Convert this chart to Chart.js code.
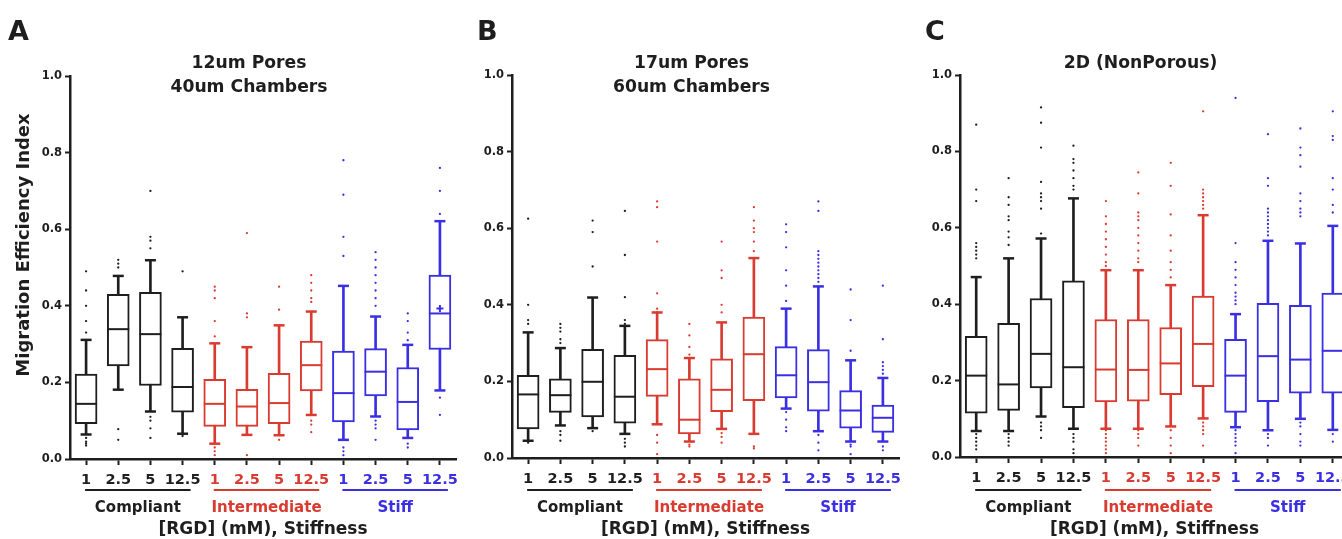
<!DOCTYPE html>
<html>
<head>
<meta charset="utf-8">
<script src="https://cdn.jsdelivr.net/npm/chart.js@4.4.1/dist/chart.umd.min.js"></script>
<style>
    html, body { margin: 0; padding: 0; background: #fff; }
    #wrap { position: relative; width: 1342px; height: 539px; overflow: hidden; background: #fff; }
    #wrap canvas { position: absolute; top: 0; }
</style>
</head>
<body>
<div id="wrap">
    <canvas id="panelA" width="490" height="539" style="left:0px"></canvas>
    <canvas id="panelB" width="480" height="539" style="left:450px"></canvas>
    <canvas id="panelC" width="490" height="539" style="left:900px"></canvas>
</div>
<script>
// categories: [RGD] (mM) within each stiffness group
const categories = ['1', '2.5', '5', '12.5', '1', '2.5', '5', '12.5', '1', '2.5', '5', '12.5'];
const groupNames = ['Compliant', 'Intermediate', 'Stiff'];
const groupColors = ['#1e1e1e', '#d93b30', '#3a2fe2'];
const yTickValues = [0, 0.2, 0.4, 0.6, 0.8, 1.0];

// A: 12um pores / 40um chambers
const aLow  = [0.064, 0.181, 0.124, 0.066, 0.040, 0.063, 0.062, 0.115, 0.050, 0.111, 0.055, 0.179];
const aQ1   = [0.092, 0.243, 0.192, 0.122, 0.085, 0.085, 0.092, 0.178, 0.097, 0.165, 0.076, 0.286];
const aMed  = [0.144, 0.339, 0.326, 0.188, 0.144, 0.137, 0.146, 0.245, 0.172, 0.228, 0.149, 0.380];
const aQ3   = [0.222, 0.430, 0.435, 0.289, 0.208, 0.182, 0.224, 0.308, 0.282, 0.288, 0.239, 0.480];
const aHigh = [0.311, 0.478, 0.519, 0.370, 0.302, 0.292, 0.349, 0.385, 0.452, 0.372, 0.298, 0.621];
const aOutliers = [
    [0.49, 0.44, 0.40, 0.36, 0.33, 0.055, 0.045, 0.04, 0.035],
    [0.52, 0.51, 0.50, 0.078, 0.05],
    [0.70, 0.58, 0.57, 0.55, 0.11, 0.10, 0.08, 0.055],
    [0.49, 0.06],
    [0.45, 0.44, 0.42, 0.36, 0.32, 0.03, 0.02, 0.01],
    [0.59, 0.38, 0.37, 0.01],
    [0.45, 0.39, 0.05],
    [0.48, 0.46, 0.44, 0.42, 0.41, 0.10, 0.09, 0.07],
    [0.78, 0.69, 0.58, 0.53, 0.03, 0.02, 0.01],
    [0.54, 0.52, 0.50, 0.48, 0.46, 0.44, 0.42, 0.40, 0.10, 0.09, 0.08, 0.05],
    [0.38, 0.36, 0.33, 0.31, 0.04, 0.03],
    [0.76, 0.70, 0.64, 0.16, 0.115]
];
const aMeans = [null, null, null, null, null, null, null, null, null, null, null, 0.393];

// B: 17um pores / 60um chambers
const bLow  = [0.045, 0.085, 0.078, 0.063, 0.088, 0.043, 0.076, 0.063, 0.129, 0.070, 0.043, 0.043];
const bQ1   = [0.076, 0.119, 0.107, 0.091, 0.161, 0.063, 0.121, 0.150, 0.157, 0.122, 0.078, 0.067];
const bMed  = [0.166, 0.164, 0.199, 0.160, 0.232, 0.100, 0.178, 0.271, 0.216, 0.198, 0.124, 0.105];
const bQ3   = [0.216, 0.207, 0.284, 0.268, 0.309, 0.207, 0.259, 0.368, 0.291, 0.283, 0.176, 0.138];
const bHigh = [0.328, 0.287, 0.419, 0.345, 0.380, 0.261, 0.354, 0.522, 0.390, 0.448, 0.255, 0.209];
const bOutliers = [
    [0.625, 0.40, 0.36, 0.35, 0.04],
    [0.35, 0.34, 0.33, 0.31, 0.30, 0.07, 0.06, 0.045],
    [0.62, 0.59, 0.50, 0.07],
    [0.645, 0.53, 0.42, 0.36, 0.35, 0.05, 0.04, 0.03],
    [0.67, 0.655, 0.565, 0.43, 0.39, 0.38, 0.06, 0.04, 0.01],
    [0.35, 0.32, 0.29, 0.27, 0.035, 0.03],
    [0.565, 0.49, 0.47, 0.40, 0.38, 0.065, 0.055, 0.04],
    [0.655, 0.62, 0.60, 0.59, 0.565, 0.54, 0.03, 0.025],
    [0.61, 0.59, 0.55, 0.49, 0.45, 0.41, 0.12, 0.10, 0.08, 0.07],
    [0.67, 0.645, 0.54, 0.53, 0.52, 0.51, 0.50, 0.49, 0.48, 0.47, 0.46, 0.06, 0.04, 0.02],
    [0.44, 0.36, 0.28, 0.035, 0.03, 0.01],
    [0.45, 0.31, 0.25, 0.24, 0.23, 0.22, 0.03, 0.02]
];

// C: 2D (non porous)
const cLow  = [0.068, 0.068, 0.106, 0.074, 0.074, 0.074, 0.080, 0.101, 0.078, 0.070, 0.100, 0.071];
const cQ1   = [0.115, 0.122, 0.181, 0.129, 0.144, 0.146, 0.163, 0.184, 0.117, 0.145, 0.167, 0.167];
const cMed  = [0.213, 0.190, 0.270, 0.235, 0.229, 0.228, 0.245, 0.296, 0.213, 0.264, 0.255, 0.278];
const cQ3   = [0.316, 0.350, 0.415, 0.461, 0.360, 0.360, 0.339, 0.421, 0.308, 0.402, 0.397, 0.429];
const cHigh = [0.471, 0.520, 0.572, 0.677, 0.489, 0.489, 0.450, 0.633, 0.374, 0.566, 0.559, 0.605];
const cOutliers = [
    [0.87, 0.70, 0.67, 0.56, 0.55, 0.54, 0.53, 0.52, 0.06, 0.05, 0.04, 0.03, 0.02],
    [0.73, 0.68, 0.66, 0.63, 0.62, 0.59, 0.575, 0.555, 0.06, 0.05, 0.04, 0.03],
    [0.915, 0.875, 0.81, 0.72, 0.69, 0.68, 0.67, 0.65, 0.585, 0.09, 0.08, 0.07, 0.05],
    [0.815, 0.78, 0.77, 0.75, 0.73, 0.71, 0.70, 0.06, 0.05, 0.04, 0.02, 0.01],
    [0.67, 0.63, 0.61, 0.59, 0.57, 0.55, 0.53, 0.51, 0.50, 0.07, 0.06, 0.05, 0.04, 0.03, 0.02, 0.01],
    [0.745, 0.69, 0.64, 0.63, 0.62, 0.60, 0.58, 0.56, 0.54, 0.52, 0.51, 0.07, 0.06, 0.05, 0.03],
    [0.77, 0.71, 0.635, 0.58, 0.54, 0.51, 0.49, 0.47, 0.07, 0.05, 0.03, 0.01],
    [0.905, 0.70, 0.69, 0.68, 0.67, 0.66, 0.65, 0.09, 0.08, 0.07, 0.06, 0.03],
    [0.94, 0.56, 0.51, 0.49, 0.47, 0.45, 0.43, 0.42, 0.41, 0.40, 0.07, 0.06, 0.05, 0.04, 0.03, 0.01],
    [0.845, 0.73, 0.71, 0.65, 0.64, 0.63, 0.62, 0.61, 0.60, 0.59, 0.58, 0.06, 0.05, 0.03],
    [0.86, 0.81, 0.79, 0.76, 0.69, 0.67, 0.65, 0.64, 0.63, 0.09, 0.08, 0.06, 0.04, 0.03],
    [0.905, 0.84, 0.83, 0.73, 0.70, 0.66, 0.64, 0.06, 0.04]
];

const FONT = '"DejaVu Sans", Verdana, sans-serif';
const INK = '#1e1e1e';
const Y_AXIS_W = 40;
const X_AXIS_H = 36;

// unique ids so every category can be addressed by the outlier datasets
const categoryIds = categories.map((c, i) => groupNames[Math.floor(i / 4)] + ' ' + c);
const categoryColors = categories.map((c, i) => groupColors[Math.floor(i / 4)]);

Chart.defaults.font.family = FONT;
Chart.defaults.color = INK;

// titles, panel letter, group underlines and axis titles
const panelText = {
    id: 'panelText',
    afterDraw(chart, args, opts) {
        const ctx = chart.ctx;
        const area = chart.chartArea;
        const x = chart.scales.x;
        const mid = (area.left + area.right) / 2;
        ctx.save();
        ctx.fillStyle = INK;
        ctx.textAlign = 'left';
        ctx.textBaseline = 'alphabetic';
        ctx.font = 'bold 27px ' + FONT;
        ctx.fillText(opts.letter, opts.letterX, 40);

        ctx.textAlign = 'center';
        ctx.font = 'bold 17.2px ' + FONT;
        opts.title.forEach((line, i) => ctx.fillText(line, mid - 14, 68 + i * 24));

        if (opts.yTitle) {
            ctx.save();
            ctx.translate(opts.yTitleX, 245);
            ctx.rotate(-Math.PI / 2);
            ctx.textBaseline = 'middle';
            ctx.font = 'bold 18px ' + FONT;
            ctx.fillText(opts.yTitle, 0, 0);
            ctx.restore();
        }

        groupNames.forEach((name, g) => {
            const x0 = x.getPixelForValue(g * 4) - 1;
            const x1 = x.getPixelForValue(g * 4 + 3) + 8;
            ctx.strokeStyle = groupColors[g];
            ctx.lineWidth = 2;
            ctx.beginPath();
            ctx.moveTo(x0, 490);
            ctx.lineTo(x1, 490);
            ctx.stroke();
            ctx.fillStyle = groupColors[g];
            ctx.font = 'bold 15px ' + FONT;
            ctx.fillText(name, (x0 + x1) / 2, 512);
        });

        ctx.fillStyle = INK;
        ctx.font = 'bold 17px ' + FONT;
        ctx.fillText('[RGD] (mM), Stiffness', mid, 534);
        ctx.restore();
    }
};

function buildDatasets(low, q1, med, q3, high, outliers, means) {
    const sets = [
        {
            type: 'bar', data: low.map((v, i) => [v, high[i]]),
            backgroundColor: categoryColors, barThickness: 2, grouped: false, order: 6
        },
        {
            type: 'bar', data: q1.map((v, i) => [v, q3[i]]),
            backgroundColor: '#ffffff', borderColor: categoryColors, borderWidth: 2,
            borderSkipped: false, barThickness: 22, grouped: false, order: 5
        },
        {
            type: 'line', data: med, showLine: false, pointStyle: 'line',
            pointRadius: 11, pointBorderWidth: 2, pointBorderColor: categoryColors, order: 4
        },
        {
            type: 'line', data: high, showLine: false, pointStyle: 'line',
            pointRadius: 5.5, pointBorderWidth: 2.5, pointBorderColor: categoryColors, order: 4
        },
        {
            type: 'line', data: low, showLine: false, pointStyle: 'line',
            pointRadius: 5.5, pointBorderWidth: 2.5, pointBorderColor: categoryColors, order: 4
        }
    ];
    groupNames.forEach((name, g) => {
        const pts = [];
        for (let i = g * 4; i < g * 4 + 4; i++) {
            outliers[i].forEach(v => pts.push({ x: categoryIds[i], y: v }));
        }
        sets.push({
            type: 'line', data: pts, showLine: false, pointRadius: 1.15,
            pointBorderWidth: 0, pointBackgroundColor: groupColors[g], order: 2
        });
    });
    if (means) {
        sets.push({
            type: 'line', data: means, showLine: false, pointStyle: 'cross',
            pointRadius: 3.5, pointBorderWidth: 2, pointBorderColor: categoryColors, order: 1
        });
    }
    return sets;
}

function makePanel(cfg, datasets) {
    const canvas = document.getElementById(cfg.canvas);
    return new Chart(canvas, {
        type: 'bar',
        data: { labels: categoryIds, datasets: datasets },
        plugins: [panelText],
        options: {
            responsive: false,
            animation: false,
            events: [],
            layout: {
                padding: {
                    left: cfg.areaLeft - cfg.left - Y_AXIS_W,
                    right: cfg.left + canvas.width - cfg.areaRight,
                    top: cfg.top,
                    bottom: 539 - cfg.bottom - X_AXIS_H
                }
            },
            plugins: {
                legend: { display: false },
                tooltip: { enabled: false },
                panelText: {
                    letter: cfg.letter,
                    letterX: cfg.letterX - cfg.left,
                    title: cfg.title,
                    yTitle: cfg.yTitle || '',
                    yTitleX: 24 - cfg.left
                }
            },
            scales: {
                x: {
                    type: 'category',
                    offset: true,
                    afterFit: s => { s.height = X_AXIS_H; },
                    grid: { offset: false, drawOnChartArea: false, tickLength: 6, tickWidth: 2, color: INK },
                    border: { color: INK, width: 2.5 },
                    ticks: {
                        autoSkip: false, maxRotation: 0, padding: 7,
                        font: { size: 14.5, weight: 'bold' },
                        color: c => categoryColors[c.index],
                        callback: (v, i) => categories[i]
                    }
                },
                y: {
                    type: 'linear',
                    min: 0,
                    max: 1,
                    afterFit: s => { s.width = Y_AXIS_W; },
                    afterBuildTicks: s => { s.ticks = yTickValues.map(v => ({ value: v })); },
                    grid: { drawOnChartArea: false, tickLength: 5, tickWidth: 2, color: INK },
                    border: { color: INK, width: 2.5 },
                    ticks: {
                        padding: 3,
                        font: { size: 11.5, weight: 'bold' },
                        callback: v => v.toFixed(1)
                    }
                }
            }
        }
    });
}

makePanel({ canvas: 'panelA', left: 0, areaLeft: 70, areaRight: 456, top: 76, bottom: 459,
            letter: 'A', letterX: 8, title: ['12um Pores', '40um Chambers'],
            yTitle: 'Migration Efficiency Index' },
          buildDatasets(aLow, aQ1, aMed, aQ3, aHigh, aOutliers, aMeans));
makePanel({ canvas: 'panelB', left: 450, areaLeft: 512, areaRight: 899, top: 75, bottom: 458,
            letter: 'B', letterX: 477, title: ['17um Pores', '60um Chambers'] },
          buildDatasets(bLow, bQ1, bMed, bQ3, bHigh, bOutliers));
makePanel({ canvas: 'panelC', left: 900, areaLeft: 960, areaRight: 1349, top: 75, bottom: 457,
            letter: 'C', letterX: 925, title: ['2D (NonPorous)'] },
          buildDatasets(cLow, cQ1, cMed, cQ3, cHigh, cOutliers));
</script>
</body>
</html>
